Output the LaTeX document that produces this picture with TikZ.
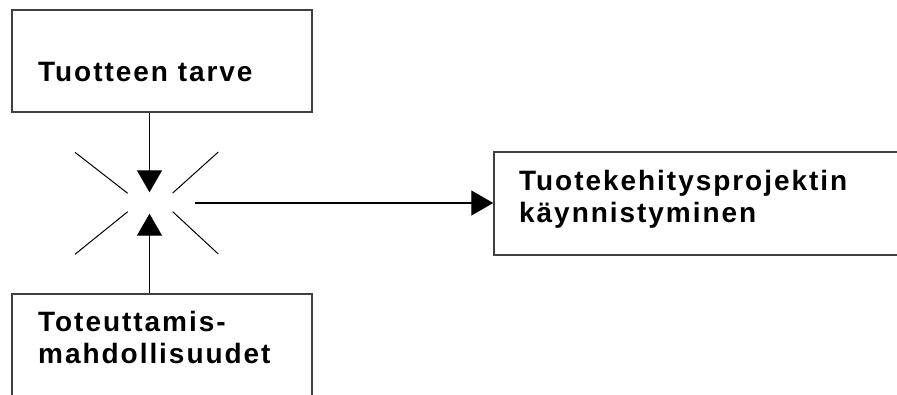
\documentclass[tikz,border=0pt]{standalone}
\usepackage{fontspec}
\setmainfont{Liberation Sans}[LetterSpace=7]
\usepackage{tikz}
\usetikzlibrary{arrows.meta,positioning}

\tikzset{
  box/.style={draw=black!75, line width=1.5pt, inner sep=0pt},
  lbl/.style={font=\fontsize{28}{32}\selectfont\bfseries, align=left, inner sep=0pt, anchor=base west},
  flow/.style={line width=1.3pt, -{Triangle[length=22pt,width=25pt]}},
  sparkline/.style={line width=1pt}
}

\begin{document}
\begin{tikzpicture}[x=1pt,y=-1pt]
\useasboundingbox (0,0) rectangle (897,394);
\clip (0,0) rectangle (897,394);

% Boxes
\node[box, minimum width=300pt, minimum height=102pt] (need) at (162,61) {};
\node[box, minimum width=300pt, minimum height=126pt] (feas) at (162,357) {};
\node[box, minimum width=426pt, minimum height=103pt] (start) at (707,203.5) {};

% Box texts (anchored at the baseline of the last line)
\node[lbl] (needtxt) at (38,81.7) {Tuotteen tarve};
\node[lbl] (feastxt) at (38,363) {Toteuttamis-\\mahdollisuudet};
\node[lbl] (starttxt) at (519,222) {Tuotekehitysprojektin\\käynnistyminen};

% Meeting point
\node[circle, minimum size=21pt, inner sep=0pt] (spark) at (149.5,203) {};
\foreach \ax/\ay/\bx/\by in {-21.8/-9.7/-74.5/-50.7, 23.2/-10/68.8/-51,
                             -21.8/8.7/-74.5/51.3, 23.2/8.7/68.8/51}
  \draw[sparkline] ([shift={(\ax,\ay)}]spark.center) -- ([shift={(\bx,\by)}]spark.center);

% Arrows
\draw[flow] (spark |- need.south) -- (spark);
\draw[flow] (spark |- feas.north) -- (spark);
\draw[flow, shorten <=35pt] (spark) -- (spark -| start.west);
\end{tikzpicture}
\end{document}
